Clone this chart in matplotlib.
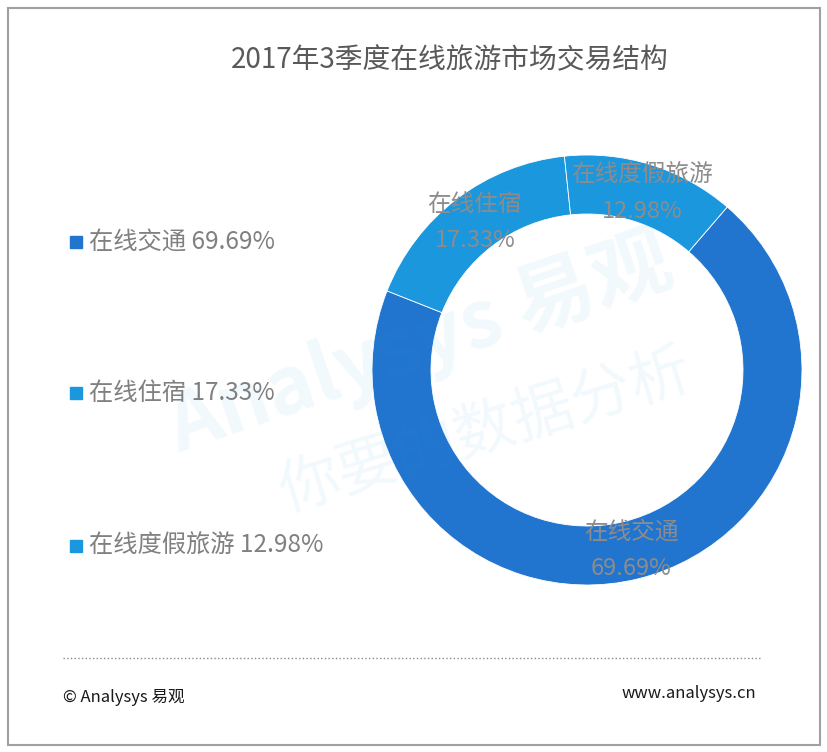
import numpy as np
import matplotlib
matplotlib.use('Agg')
import matplotlib.pyplot as plt
from matplotlib.patches import Rectangle

plt.rcParams['font.family'] = ['Noto Sans CJK SC', 'DejaVu Sans']

# 数据
title = '2017年3季度在线旅游市场交易结构'
categories = ['在线交通', '在线住宿', '在线度假旅游']
values = [69.69, 17.33, 12.98]
colors = ['#2275cf', '#1b97dd', '#1b97dd']

W, H = 828, 752
fig = plt.figure(figsize=(W / 100, H / 100), dpi=100)
ax = fig.add_axes([0, 0, 1, 1])
ax.set_xlim(0, W)
ax.set_ylim(0, H)
ax.set_aspect('equal')
ax.axis('off')

def Y(y):
    # resim koordinatı -> eksen koordinatı
    return H - y

# çerçeve
ax.add_patch(Rectangle((8, Y(745)), 812, 737, fill=False, edgecolor='#a0a0a0', lw=1.5))

# filigran (soluk)
ax.text(420, Y(345), 'Analysys 易观', fontsize=58, color='#1b97dd', alpha=0.06,
        rotation=19, ha='center', va='center', fontweight='bold')
ax.text(485, Y(432), '你要的数据分析', fontsize=44, color='#1b97dd', alpha=0.06,
        rotation=17, ha='center', va='center')

ax.text(450, Y(60), title, fontsize=20, color='#595959', ha='center', va='center')

# halka grafik
cx, cy, R, w = 587, Y(370), 215, 59
wedges, _ = ax.pie(values, colors=colors, center=(cx, cy), radius=R,
                   startangle=49.3, counterclock=False,
                   wedgeprops=dict(width=w, edgecolor='white', linewidth=0.6))
ax.set_xlim(0, W)
ax.set_ylim(0, H)

for wd, name, v in zip(wedges, categories, values):
    ang = np.deg2rad((wd.theta1 + wd.theta2) / 2)
    r = R - w / 2
    x = cx + r * np.cos(ang)
    y = cy + r * np.sin(ang)
    ax.text(x, y, f'{name}\n{v:.2f}%', fontsize=17, color='#8c8c8c',
            ha='center', va='center', linespacing=1.75)

# sol lejant
leg_y = [242, 393, 546]
for yy, name, v, c in zip(leg_y, categories, values, colors):
    ax.add_patch(Rectangle((70, Y(yy) - 6), 12, 12, color=c))
    ax.text(89, Y(yy), f'{name} {v:.2f}%', fontsize=17.5, color='#808080',
            ha='left', va='center')

# alt bilgi
ax.plot([63, 760], [Y(658), Y(658)], ls=':', color='#888888', lw=1)
ax.text(63, Y(697), '© Analysys 易观', fontsize=12, color='#1a1a1a', ha='left', va='center')
ax.text(756, Y(694), 'www.analysys.cn', fontsize=12, color='#1a1a1a', ha='right', va='center')

fig.savefig('out.png', dpi=100)
